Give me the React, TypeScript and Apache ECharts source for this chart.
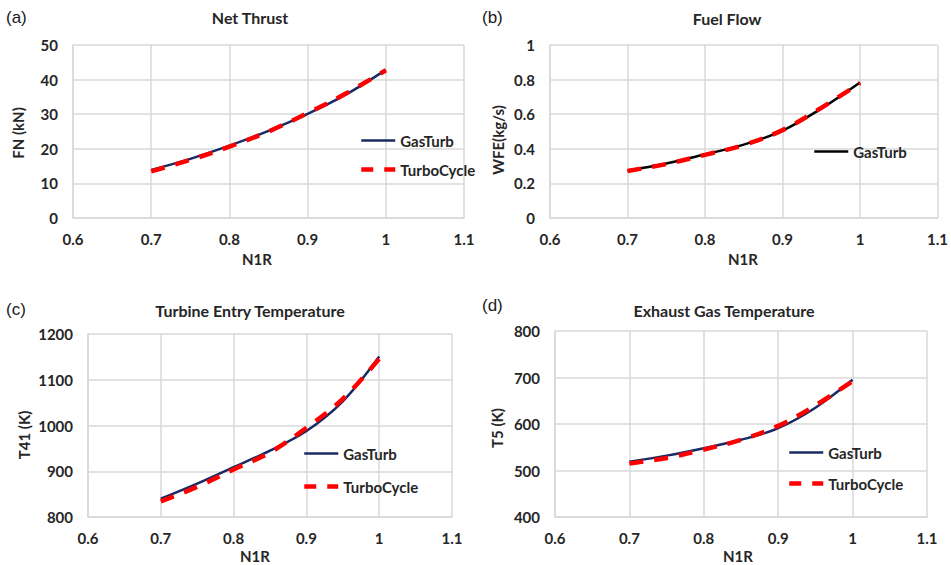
import React, { useEffect, useRef } from "react";
import * as echarts from "echarts";

// N1R sample points (x values)
const n1r = [0.7, 0.75, 0.8, 0.85, 0.9, 0.95, 1.0];

// (a) Net Thrust, kN
const fnGasTurb = [13.9, 17.1, 20.9, 25.2, 30.1, 35.8, 42.8];
const fnTurboCycle = [13.5, 16.8, 20.6, 25.0, 30.3, 36.1, 42.7];

// (b) Fuel Flow, kg/s
const wfeGasTurb = [0.275, 0.315, 0.368, 0.424, 0.505, 0.632, 0.783];
const wfeTurboCycle = [0.272, 0.312, 0.365, 0.422, 0.508, 0.637, 0.780];

// (c) Turbine Entry Temperature, K
const t41GasTurb = [840, 873, 909, 945, 988, 1053, 1151];
const t41TurboCycle = [834, 866, 904, 941, 995, 1058, 1146];

// (d) Exhaust Gas Temperature, K
const t5GasTurb = [519, 532, 548, 566, 591, 635, 695];
const t5TurboCycle = [515, 527, 545, 566, 596, 640, 692];

// axis tick settings
const xTicks = { min: 0.6, max: 1.1, interval: 0.1 };
const yTicksA = { min: 0, max: 50, interval: 10 };
const yTicksB = { min: 0, max: 1, interval: 0.2 };
const yTicksC = { min: 800, max: 1200, interval: 100 };
const yTicksD = { min: 400, max: 800, interval: 100 };

const panelTitles = ["Net Thrust", "Fuel Flow", "Turbine Entry Temperature", "Exhaust Gas Temperature"];
const panelLetters = ["(a)", "(b)", "(c)", "(d)"];
const yNames = ["FN (kN)", "WFE(kg/s)", "T41 (K)", "T5 (K)"];
const xName = "N1R";

const FONT = "Lato, 'Open Sans', 'Liberation Sans', sans-serif";
const NAVY = "#1b2a63";
const RED = "#ff0000";
const GRID = "#d9d9d9";
const TXT = "#262626";

const pair = (ys: number[]) => n1r.map((x, i) => [x, ys[i]]);

export default function App() {
  const ref = useRef<HTMLDivElement>(null);
  useEffect(() => {
    if (!ref.current) return;
    const chart = echarts.init(ref.current, null, { renderer: "svg" });

    const grids = [
      { left: 73, top: 45, width: 391, height: 173 },
      { left: 550, top: 45, width: 391, height: 173 },
      { left: 88, top: 334, width: 364, height: 183 },
      { left: 555, top: 331, width: 372, height: 186 },
    ];
    const yTicks = [yTicksA, yTicksB, yTicksC, yTicksD];

    const xAxis = grids.map((_, i) => ({
      type: "value",
      gridIndex: i,
      min: xTicks.min,
      max: xTicks.max,
      interval: xTicks.interval,
      axisLine: { show: true, lineStyle: { color: GRID, width: 1.5 } },
      axisTick: { show: false },
      splitLine: { show: true, lineStyle: { color: GRID, width: 1.5 } },
      axisLabel: {
        color: TXT,
        fontFamily: FONT,
        fontWeight: "bold",
        fontSize: 15,
        margin: 13,
        formatter: (v: number) => String(+v.toFixed(1)),
      },
    }));
    const yAxis = grids.map((_, i) => ({
      type: "value",
      gridIndex: i,
      min: yTicks[i].min,
      max: yTicks[i].max,
      interval: yTicks[i].interval,
      axisLine: { show: true, lineStyle: { color: GRID, width: 1.5 } },
      axisTick: { show: false },
      splitLine: { show: true, lineStyle: { color: GRID, width: 1.5 } },
      axisLabel: {
        color: TXT,
        fontFamily: FONT,
        fontWeight: "bold",
        fontSize: 15,
        margin: 15,
        formatter: (v: number) => String(+v.toFixed(1)),
      },
    }));

    const gasData = [fnGasTurb, wfeGasTurb, t41GasTurb, t5GasTurb];
    const turboData = [fnTurboCycle, wfeTurboCycle, t41TurboCycle, t5TurboCycle];
    const series: any[] = [];
    for (let i = 0; i < 4; i++) {
      series.push({
        name: "GasTurb",
        type: "line",
        xAxisIndex: i,
        yAxisIndex: i,
        data: pair(gasData[i]),
        smooth: 0.35,
        symbol: "none",
        z: 2,
        lineStyle: { color: i === 1 ? "#000000" : NAVY, width: 2.5 },
        itemStyle: { color: i === 1 ? "#000000" : NAVY },
      });
      series.push({
        name: "TurboCycle",
        type: "line",
        xAxisIndex: i,
        yAxisIndex: i,
        data: pair(turboData[i]),
        smooth: 0.35,
        symbol: "none",
        z: 3,
        lineStyle: { color: RED, width: 4.5, type: [14, 11] },
        itemStyle: { color: RED },
      });
    }

    const gasItem = { name: "GasTurb", lineStyle: { color: NAVY, width: 2.5, type: "solid" } };
    const turboItem = { name: "TurboCycle", lineStyle: { color: RED, width: 4.5, type: [12, 11] } };
    const legendText = { color: TXT, fontFamily: FONT, fontWeight: "bold", fontSize: 15 };
    const legend = [
      { left: 359, top: 133, itemGap: 14, data: [gasItem, turboItem] },
      { left: 813, top: 144, itemGap: 14, data: [{ name: "GasTurb", lineStyle: { color: "#000000", width: 2.5, type: "solid" } }] },
      { left: 302, top: 446, itemGap: 18, data: [gasItem, turboItem] },
      { left: 787, top: 445, itemGap: 16, data: [gasItem, turboItem] },
    ].map((l) => ({
      ...l,
      orient: "vertical",
      itemWidth: 34,
      itemHeight: 14,
      padding: 0,
      selectedMode: false,
      itemStyle: { opacity: 0, borderWidth: 0 },
      textStyle: legendText,
    }));

    const titlePos = [
      [250, 17],
      [727, 18],
      [250, 310],
      [724, 310],
    ];
    const letterPos = [
      [6, 17],
      [482, 17],
      [6, 309],
      [482, 305],
    ];
    const yNamePos = [
      [18, 133],
      [498, 140],
      [24, 435],
      [497, 428],
    ];
    const xNamePos = [
      [257, 259],
      [743, 259],
      [255, 556],
      [738, 556],
    ];
    const graphic: any[] = [];
    for (let i = 0; i < 4; i++) {
      graphic.push({
        type: "text",
        x: titlePos[i][0],
        y: titlePos[i][1],
        style: { text: panelTitles[i], fill: TXT, font: `bold 16px ${FONT}`, align: "center", verticalAlign: "middle" },
      });
      graphic.push({
        type: "text",
        x: letterPos[i][0],
        y: letterPos[i][1],
        style: { text: panelLetters[i], fill: "#1a1a1a", font: `17px 'Liberation Sans', Arial, sans-serif`, align: "left", verticalAlign: "middle" },
      });
      graphic.push({
        type: "text",
        x: yNamePos[i][0],
        y: yNamePos[i][1],
        rotation: Math.PI / 2,
        style: { text: yNames[i], fill: TXT, font: `bold 15px ${FONT}`, align: "center", verticalAlign: "middle" },
      });
      graphic.push({
        type: "text",
        x: xNamePos[i][0],
        y: xNamePos[i][1],
        style: { text: xName, fill: TXT, font: `bold 15px ${FONT}`, align: "center", verticalAlign: "middle" },
      });
    }

    chart.setOption({
      animation: false,
      backgroundColor: "#ffffff",
      grid: grids,
      xAxis,
      yAxis,
      series,
      legend,
      graphic,
    } as any);
    return () => chart.dispose();
  }, []);
  return <div ref={ref} style={{ position: "absolute", left: 0, top: 0, width: 951, height: 565 }} />;
}
